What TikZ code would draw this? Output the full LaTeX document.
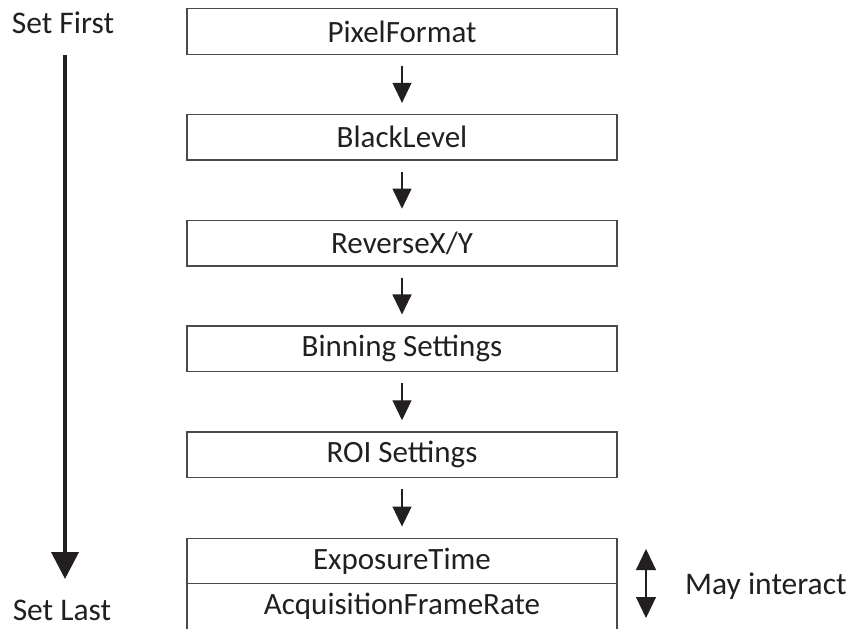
\documentclass[tikz,border=0pt]{standalone}
\usepackage{fontspec}
\setmainfont{Carlito}
\usetikzlibrary{arrows.meta}
\definecolor{ink}{HTML}{231F20}
\definecolor{boxline}{HTML}{4A4A4A}
\tikzset{
  stepbox/.style={draw=boxline, line width=1.4pt, minimum width=430pt, minimum height=45.5pt,
    inner sep=0pt, text=ink, font=\fontsize{31}{36}\selectfont},
  flowarrow/.style={draw=ink, line width=1.1pt, shorten <=11pt, shorten >=11pt,
    -{Triangle[width=19pt,length=20pt]}},
  bigarrow/.style={draw=ink, line width=4pt, -{Triangle[width=27pt,length=27pt]}},
  bothways/.style={draw=ink, line width=1.1pt, {Triangle[width=20pt,length=21pt]}-{Triangle[width=20pt,length=21pt]}},
  label/.style={text=ink, font=\fontsize{31.5}{36}\selectfont, inner sep=0pt}
}
\begin{document}
\begin{tikzpicture}[x=1pt,y=-1pt]
\useasboundingbox (0,0) rectangle (854,629);
\node[stepbox] (pf) at (402,31.5) {PixelFormat};
\node[stepbox] (bl) at (402,137.3) {BlackLevel};
\node[stepbox] (rv) at (402,243.1) {ReverseX/Y};
\node[stepbox] (bn) at (402,348.9) {Binning Settings};
\node[stepbox] (roi) at (402,454.7) {ROI Settings};
\node[stepbox] (et) at (402,561) {ExposureTime};
\node[stepbox] (afr) at (402,606.5) {AcquisitionFrameRate};
\draw[flowarrow] (pf) -- (bl);
\draw[flowarrow] (bl) -- (rv);
\draw[flowarrow] (rv) -- (bn);
\draw[flowarrow] (bn) -- (roi);
\draw[flowarrow] (roi) -- (et);
\node[label, anchor=base] (first) at (63,33) {Set First};
\node[label, anchor=base] (last) at (62,620) {Set Last};
\coordinate (gs) at (65,55);
\coordinate (ge) at (65,579);
\draw[bigarrow] (gs) -- (ge);
\coordinate (ms) at (646,549);
\coordinate (me) at (646,618);
\draw[bothways] (ms) -- (me);
\node[label, anchor=base west] (may) at (685,594) {May interact};
\end{tikzpicture}
\end{document}
